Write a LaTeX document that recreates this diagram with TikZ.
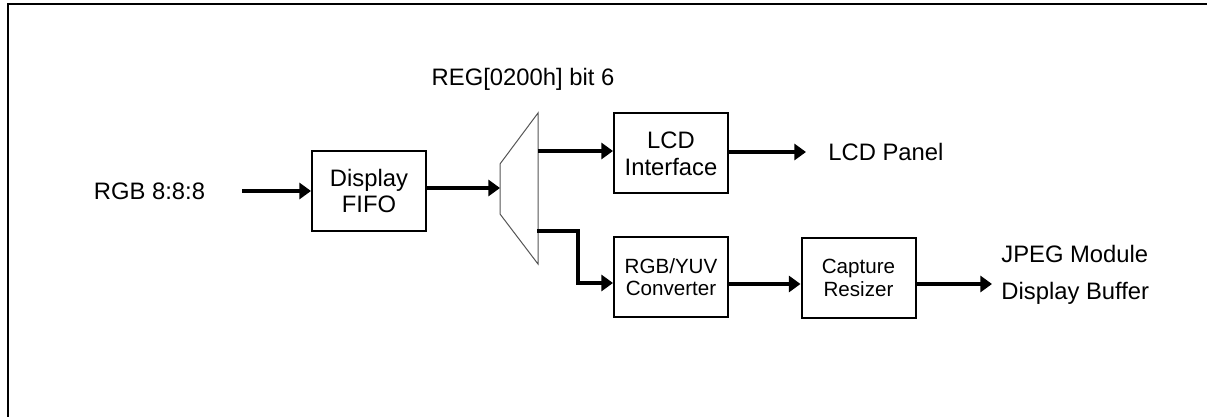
\documentclass[tikz,border=0pt]{standalone}
\usepackage{fontspec}
\setmainfont{Liberation Sans}
\usetikzlibrary{arrows.meta,positioning,calc}
\definecolor{cInk}{HTML}{000000}
\definecolor{cMux}{HTML}{555555}

\begin{document}
\begin{tikzpicture}[
  x=0.5pt,y=-0.5pt,
  font=\fontsize{11.9}{13.4}\selectfont,
  ar/.style={-{Triangle[length=5.8pt,width=8pt]},line width=1.6pt,color=cInk},
  blk/.style={draw,line width=1pt,align=center,minimum width=57pt,minimum height=40pt,
              inner sep=1pt,text=cInk},
  sblk/.style={blk,font=\fontsize{10.3}{11.2}\selectfont},
  lbl/.style={inner sep=0pt,align=left,text=cInk},
  mux/.style={line width=0.5pt,color=cMux},
  frm/.style={line width=1pt,color=cInk},
]
\useasboundingbox (0,0) rectangle (1207,417);

% ====================================================== frame
\draw[frm] (8,417) -- (8,4) -- (1207,4);

% -- input and display fifo
\node[lbl] (rgbin) at (149.5,191) {RGB 8:8:8};
\coordinate (in) at (242,191);
\node[blk] (fifo) at (369,191) {Display\\FIFO};

% -- selector (REG[0200h] bit 6)
\node[lbl] (regbit) at (523,79) {REG[0200h] bit 6};
\draw[mux] (500,164) -- (538,113) -- (538,264) -- (500,214) -- cycle;
\coordinate (muxin)  at (500,188);
\coordinate (muxtop) at (538,151);
\coordinate (muxbot) at (537,231);

% -- lcd path
\node[blk] (lcdif) at (671,153.5) {LCD\\Interface};
\node[lbl,anchor=west] (lcdpanel) at (828,152) {LCD Panel};

% -- capture path
\node[sblk] (rgbyuv)  at (671,277) {RGB/YUV\\Converter};
\node[sblk] (capture) at (858.5,278) {Capture\\Resizer};
\node[lbl,anchor=west] (jpeg) at (1001,274.5) {JPEG Module\\[5pt]Display Buffer};

% flow arrows
\draw[ar] (in) -- (fifo.west);
\draw[ar] (fifo.east |- muxin) -- (muxin);
\draw[ar] (muxtop) -- (lcdif.west |- muxtop);
\draw[ar] (lcdif.east |- lcdpanel) -- ($(lcdpanel.west)+(-22,0)$);
\draw[ar] (muxbot) -| ($(rgbyuv.west)+(-35,6)$) -- ($(rgbyuv.west)+(0,6)$);
\draw[ar] ($(rgbyuv.east)+(0,7)$) -- ($(capture.west)+(0,6)$);
\draw[ar] ($(capture.east)+(0,6)$) -- ($(jpeg.west)+(-9,9.5)$);

\end{tikzpicture}
\end{document}
